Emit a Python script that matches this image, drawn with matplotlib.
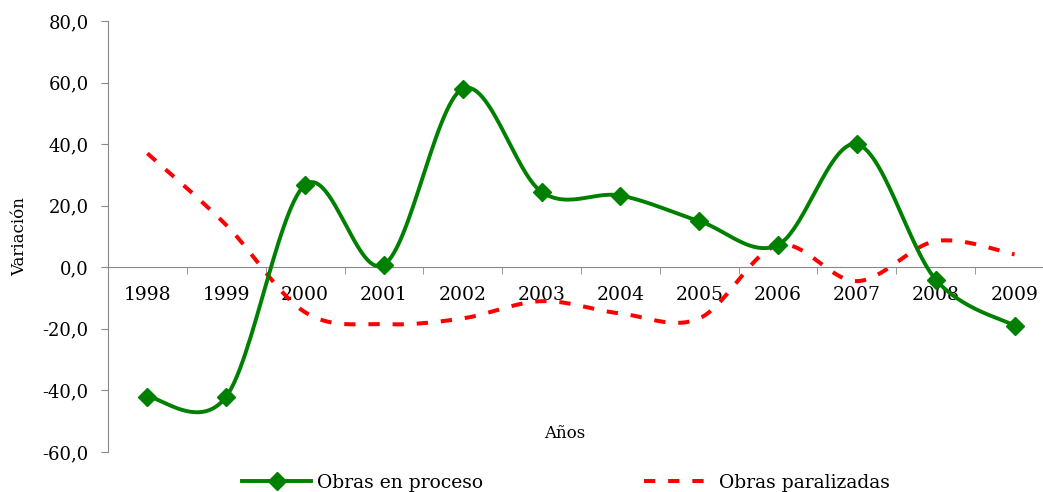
import numpy as np
import matplotlib
matplotlib.use("Agg")
import matplotlib.pyplot as plt
from matplotlib.ticker import FuncFormatter, FixedLocator

years = ["1998", "1999", "2000", "2001", "2002", "2003",
         "2004", "2005", "2006", "2007", "2008", "2009"]
en_proceso = [-42.0, -42.0, 26.8, 0.8, 58.0, 24.5, 23.3, 15.0, 7.3, 40.0, -4.0, -19.0]
paralizadas = [37.0, 13.7, -14.6, -18.5, -16.6, -11.0, -15.0, -16.6, 7.2, -4.5, 8.5, 4.2]


def smooth(y, n=30):
    # bezier through the points, control points like a spreadsheet smoothed line
    y = np.asarray(y, float)
    x = np.arange(len(y), dtype=float)
    xs, ys = [], []
    t = np.linspace(0, 1, n)
    for i in range(len(y) - 1):
        x0, y0 = x[i], y[i]
        x3, y3 = x[i + 1], y[i + 1]
        xp, yp = (x[i - 1], y[i - 1]) if i > 0 else (x0, y0)
        xn, yn = (x[i + 2], y[i + 2]) if i + 2 < len(y) else (x3, y3)
        x1, y1 = x0 + (x3 - xp) / 6, y0 + (y3 - yp) / 6
        x2, y2 = x3 - (xn - x0) / 6, y3 - (yn - y0) / 6
        bx = (1-t)**3*x0 + 3*(1-t)**2*t*x1 + 3*(1-t)*t**2*x2 + t**3*x3
        by = (1-t)**3*y0 + 3*(1-t)**2*t*y1 + 3*(1-t)*t**2*y2 + t**3*y3
        xs.append(bx)
        ys.append(by)
    return np.concatenate(xs), np.concatenate(ys)


plt.rcParams['font.family'] = ['DejaVu Serif']

fig = plt.figure(figsize=(10.43, 4.92), dpi=100)
ax = fig.add_axes([108 / 1043, 1 - 452 / 492, 946 / 1043, 431 / 492])

gx, gy = smooth(en_proceso)
rx, ry = smooth(paralizadas)
x = np.arange(len(years))

ax.plot(rx, ry, color="#ff0000", lw=2.9, dashes=(2.8, 3.2), label="Obras paralizadas", zorder=2)
ax.plot(gx, gy, color="#008000", lw=2.8, zorder=3)
ax.plot(x, en_proceso, ls="none", marker="D", ms=9, color="#008000", zorder=4)
ax.plot([], [], color="#008000", lw=2.8, marker="D", ms=9, label="Obras en proceso")

ax.set_xlim(-0.5, len(years) - 0.5)
ax.set_ylim(-60, 80)
ax.set_yticks(np.arange(-60, 81, 20))
ax.yaxis.set_major_formatter(FuncFormatter(lambda v, p: f"{v:.1f}".replace(".", ",")))

gray = "#898989"
for s in ["top", "right"]:
    ax.spines[s].set_visible(False)
ax.spines["left"].set_color(gray)
ax.spines["bottom"].set_color(gray)
ax.spines["bottom"].set_position(("data", 0))
ax.tick_params(axis="y", colors=gray, labelcolor="black", length=5, labelsize=13, pad=9)

ax.xaxis.set_major_locator(FixedLocator(x))
ax.set_xticklabels(years)
ax.xaxis.set_minor_locator(FixedLocator(np.arange(-0.5, len(years), 1)))
ax.tick_params(axis="x", which="major", length=0, labelsize=13.5, pad=13.5)
ax.tick_params(axis="x", which="minor", length=5, colors=gray)

ax.set_ylabel("Variación", fontsize=12, labelpad=10)
fig.text(565 / 1043, 1 - 434 / 492, "Años", fontsize=12, ha="center", va="center")

h, l = ax.get_legend_handles_labels()
fig.legend([h[1], h[0]], [l[1], l[0]], loc="center", bbox_to_anchor=(566 / 1043, 1 - 483 / 492),
           ncol=2, frameon=False, fontsize=13.5, handlelength=3.7, columnspacing=8.6, handletextpad=0.3)

fig.savefig("out.png", dpi=100)
